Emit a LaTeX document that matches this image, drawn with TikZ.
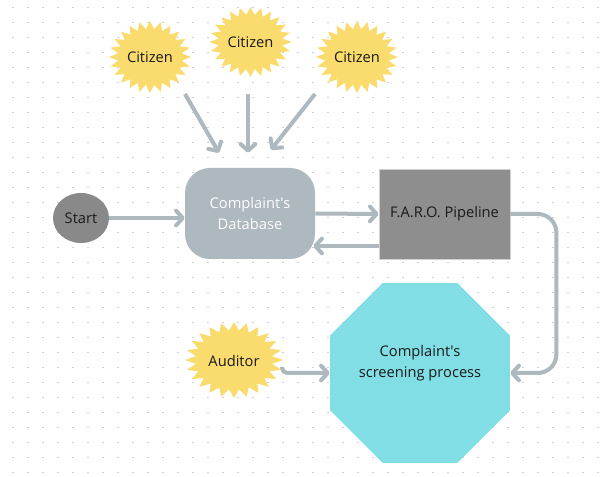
\documentclass[tikz,border=0pt]{standalone}
\usepackage{fontspec}
\setmainfont{Open Sans}[Ligatures=TeXOff]
\usetikzlibrary{arrows.meta,shapes.geometric,calc}

\definecolor{burstc}{RGB}{250,220,110}
\definecolor{dbc}{RGB}{174,184,191}
\definecolor{faroc}{RGB}{142,142,142}
\definecolor{startc}{RGB}{137,137,137}
\definecolor{octc}{RGB}{128,222,228}
\definecolor{arrc}{RGB}{174,184,191}
\definecolor{dotc}{RGB}{205,208,218}
\definecolor{inkc}{RGB}{26,26,26}

% spiky burst: center, x-radius, y-radius (24 points)
\newcommand\burstat[3]{%
  \fill[burstc, shift={(#1)}]
    plot[domain=0:47, samples=48, variable=\k]
      ({cos(\k*7.5)*#2*(0.89+0.11*cos(\k*180))},
       {sin(\k*7.5)*#3*(0.89+0.11*cos(\k*180))}) -- cycle;}

\tikzset{
  txt/.style={text=inkc, align=center, inner sep=0pt},
  arr/.style={draw=arrc, line width=3pt,
    -{Straight Barb[length=5pt, width=11pt, round]}},
  dbbox/.style={fill=dbc, rounded corners=18.75pt, minimum width=97.5pt,
    minimum height=68.25pt, text=white, align=center, inner sep=0pt},
  farobox/.style={fill=faroc, draw=black!18, line width=0.6pt,
    minimum width=98.25pt, minimum height=67.5pt, text=inkc, inner sep=0pt},
  startbox/.style={ellipse, fill=startc, minimum width=42pt,
    minimum height=37.5pt, text=inkc, inner sep=0pt},
  octbox/.style={regular polygon, regular polygon sides=8, fill=octc,
    minimum size=146.1pt, inner sep=0pt},
}

\begin{document}
\begin{tikzpicture}[x=0.75pt, y=-0.75pt,
  font=\fontsize{11}{15.5}\selectfont]
\useasboundingbox (0,0) rectangle (608,477);
\fill[white] (0,0) rectangle (608,477);

% dotted grid
\foreach \i in {0,...,39}
  \foreach \j in {0,...,31}
    \fill[dotc] ({13+15*\i-0.8},{7.5+15*\j-0.8}) rectangle ++(1.6,1.6);

% bursts
\burstat{150,57}{41}{36}
\burstat{250.5,42}{41}{35}
\burstat{357,57}{41}{36}
\burstat{234,360}{49}{38}

\node[txt] (cit1) at (150,57) {Citizen};
\node[txt] (cit2) at (250.5,42) {Citizen};
\node[txt] (cit3) at (357,57) {Citizen};
\node[txt] (aud) at (234,361) {Auditor};

% process nodes
\node[dbbox] (db) at (250,213.5) {Complaint's\\Database};
\node[farobox] (faro) at (444.5,214) {F.A.R.O. Pipeline};
\node[startbox] (start) at (81,218) {Start};
\node[octbox] (oct) at (420,373) {};
\node[txt] (octtxt) at (420,363) {Complaint's\\screening process};

% connectors
\draw[arr] ($(cit1)+(35,37)$) -- ($(db.north)+(-31,-15)$);
\draw[arr] ($(cit2)+(-2.5,52)$) -- ($(db.north)+(-2,-15)$);
\draw[arr] ($(cit3)+(-42,37)$) -- ($(db.north)+(21,-18)$);
\draw[arr] (start.east) -- (start.east -| db.west);
\draw[arr] (db.east) -- (faro.west);
\draw[arr] ($(faro.west)+(0,32)$) -- ($(db.east)+(-2,32.5)$);
\draw[arr, rounded corners=14] (faro.east) -- ++(46,0) |- (oct.east);
\draw[arr, rounded corners=4] ($(aud)+(48,6)$) |- (oct.west);
\end{tikzpicture}
\end{document}
